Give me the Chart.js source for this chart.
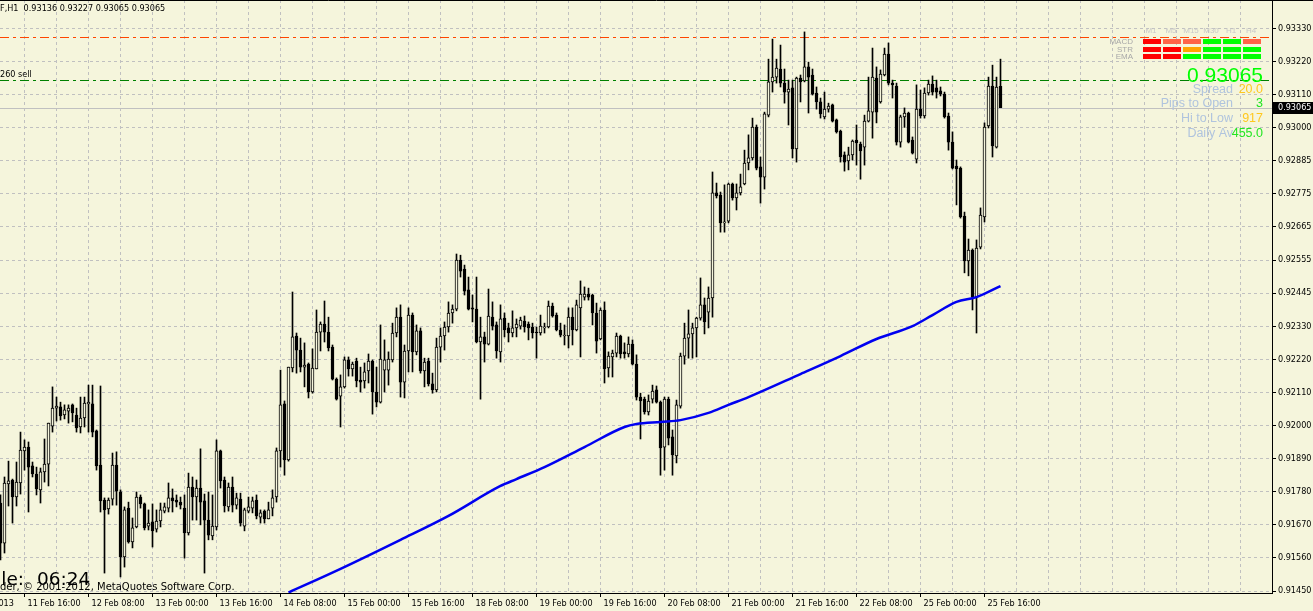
<!DOCTYPE html>
<html>
<head>
<meta charset="utf-8">
<title>USDCHF,H1</title>
<script src="https://cdn.jsdelivr.net/npm/chart.js@4.4.1/dist/chart.umd.min.js"></script>
<style>
  html, body { margin: 0; padding: 0; background: #f5f5dc; overflow: hidden; }
  #wrap { width: 1313px; height: 611px; }
</style>
</head>
<body>
<div id="wrap"><canvas id="chart" width="1313" height="611"></canvas></div>
<script>
/* ============================================================
   USDCHF H1 — MetaTrader style candle chart
   ============================================================ */

const symbol = 'USDCHF';
const period = 'H1';

// one entry per hourly bar, oldest first
const opens = [
  0.91744,0.91610,0.91808,0.91821,0.91764,0.91811,0.91918,0.91931,0.91868,0.91841,
  0.91788,0.91848,0.91874,0.92001,0.92061,0.92065,0.92038,0.92051,0.92072,0.92038,
  0.91998,0.92028,0.92075,0.92075,0.91985,0.91871,0.91754,0.91724,0.91757,0.91871,
  0.91781,0.91564,0.91727,0.91614,0.91664,0.91764,0.91741,0.91667,0.91681,0.91657,
  0.91684,0.91717,0.91727,0.91761,0.91754,0.91747,0.91727,0.91644,0.91797,0.91764,
  0.91794,0.91751,0.91687,0.91634,0.91664,0.91918,0.91821,0.91731,0.91797,0.91737,
  0.91757,0.91667,0.91717,0.91727,0.91754,0.91697,0.91717,0.91691,0.91727,0.91764,
  0.91918,0.92075,0.91888,0.92195,0.92302,0.92255,0.92198,0.92208,0.92115,0.92192,
  0.92315,0.92342,0.92315,0.92265,0.92158,0.92101,0.92132,0.92222,0.92192,0.92218,
  0.92155,0.92152,0.92185,0.92218,0.92115,0.92081,0.92188,0.92188,0.92222,0.92312,
  0.92365,0.92148,0.92252,0.92372,0.92249,0.92319,0.92185,0.92218,0.92142,0.92122,
  0.92265,0.92302,0.92332,0.92379,0.92392,0.92556,0.92526,0.92456,0.92396,0.92392,
  0.92282,0.92299,0.92275,0.92365,0.92339,0.92249,0.92362,0.92329,0.92312,0.92329,
  0.92335,0.92352,0.92342,0.92332,0.92315,0.92312,0.92329,0.92332,0.92402,0.92372,
  0.92322,0.92302,0.92302,0.92365,0.92322,0.92396,0.92432,0.92442,0.92439,0.92379,
  0.92292,0.92389,0.92195,0.92232,0.92245,0.92302,0.92249,0.92242,0.92275,0.92208,
  0.92098,0.92091,0.92048,0.92091,0.92122,0.92081,0.91931,0.92091,0.91965,0.91901,
  0.92068,0.92235,0.92295,0.92309,0.92329,0.92362,0.92406,0.92382,0.92429,0.92780,
  0.92773,0.92680,0.92686,0.92810,0.92763,0.92780,0.92810,0.92880,0.92897,0.93000,
  0.92867,0.92833,0.93040,0.93151,0.93167,0.93194,0.93147,0.93117,0.93131,0.92927,
  0.93164,0.93154,0.93201,0.93174,0.93114,0.93084,0.93034,0.93060,0.93074,0.93024,
  0.92987,0.92907,0.92887,0.92907,0.92957,0.92943,0.92933,0.93020,0.93050,0.93164,
  0.93084,0.93174,0.93244,0.93147,0.93137,0.92950,0.93034,0.93047,0.92957,0.92893,
  0.93060,0.93037,0.93114,0.93144,0.93131,0.93121,0.93110,0.93037,0.92950,0.92870,
  0.92863,0.92703,0.92553,0.92589,0.92432,0.92599,0.92700,0.93004,0.93137,0.92933,
  0.93136
];

const highs = [
  0.91771,0.91831,0.91884,0.91824,0.91881,0.91981,0.91955,0.91948,0.91881,0.91864,
  0.91861,0.91958,0.92011,0.92132,0.92098,0.92081,0.92072,0.92072,0.92075,0.92061,
  0.92098,0.92098,0.92138,0.92138,0.91988,0.92135,0.91761,0.91761,0.91911,0.91915,
  0.91788,0.91731,0.91747,0.91694,0.91781,0.91771,0.91744,0.91721,0.91741,0.91721,
  0.91744,0.91744,0.91811,0.91791,0.91771,0.91764,0.91771,0.91844,0.91831,0.91821,
  0.91925,0.91774,0.91781,0.91771,0.91955,0.91921,0.91831,0.91811,0.91831,0.91777,
  0.91777,0.91727,0.91764,0.91764,0.91771,0.91721,0.91721,0.91747,0.91788,0.91928,
  0.92188,0.92085,0.92198,0.92449,0.92312,0.92295,0.92279,0.92212,0.92259,0.92389,
  0.92349,0.92419,0.92365,0.92272,0.92162,0.92172,0.92232,0.92232,0.92215,0.92228,
  0.92198,0.92212,0.92242,0.92222,0.92198,0.92339,0.92289,0.92249,0.92345,0.92396,
  0.92406,0.92272,0.92396,0.92379,0.92339,0.92329,0.92228,0.92228,0.92178,0.92295,
  0.92329,0.92349,0.92416,0.92406,0.92576,0.92572,0.92539,0.92499,0.92439,0.92499,
  0.92365,0.92315,0.92459,0.92416,0.92349,0.92406,0.92379,0.92345,0.92386,0.92359,
  0.92365,0.92369,0.92349,0.92345,0.92332,0.92372,0.92345,0.92419,0.92412,0.92379,
  0.92345,0.92339,0.92396,0.92396,0.92422,0.92486,0.92466,0.92462,0.92442,0.92412,
  0.92396,0.92416,0.92249,0.92255,0.92312,0.92305,0.92279,0.92299,0.92289,0.92239,
  0.92111,0.92098,0.92105,0.92138,0.92135,0.92085,0.92098,0.92098,0.91988,0.92088,
  0.92245,0.92345,0.92389,0.92345,0.92365,0.92496,0.92429,0.92466,0.92850,0.92813,
  0.92783,0.92807,0.92813,0.92813,0.92810,0.92843,0.92923,0.92974,0.93030,0.93007,
  0.92900,0.93050,0.93227,0.93294,0.93227,0.93274,0.93194,0.93157,0.93157,0.93167,
  0.93174,0.93318,0.93217,0.93194,0.93134,0.93097,0.93117,0.93080,0.93077,0.93027,
  0.92990,0.92917,0.92933,0.92957,0.93007,0.92950,0.93040,0.93167,0.93264,0.93201,
  0.93191,0.93264,0.93281,0.93157,0.93147,0.93040,0.93064,0.93050,0.92967,0.93141,
  0.93124,0.93131,0.93157,0.93171,0.93157,0.93134,0.93117,0.93047,0.92984,0.92890,
  0.92867,0.92716,0.92626,0.92593,0.92623,0.92730,0.93014,0.93167,0.93207,0.93167,
  0.93227
];

const lows = [
  0.91554,0.91577,0.91734,0.91677,0.91734,0.91774,0.91854,0.91714,0.91831,0.91771,
  0.91744,0.91814,0.91801,0.91981,0.92018,0.92021,0.92025,0.92011,0.92015,0.91981,
  0.91978,0.91998,0.91981,0.91965,0.91854,0.91714,0.91510,0.91707,0.91737,0.91737,
  0.91497,0.91530,0.91610,0.91594,0.91661,0.91727,0.91654,0.91654,0.91597,0.91647,
  0.91664,0.91711,0.91714,0.91714,0.91731,0.91724,0.91560,0.91637,0.91687,0.91687,
  0.91671,0.91510,0.91621,0.91621,0.91654,0.91794,0.91714,0.91717,0.91714,0.91724,
  0.91667,0.91651,0.91711,0.91711,0.91691,0.91677,0.91677,0.91691,0.91701,0.91747,
  0.91864,0.91837,0.91884,0.92182,0.92178,0.92182,0.92132,0.92095,0.92111,0.92192,
  0.92252,0.92282,0.92252,0.92155,0.92088,0.91998,0.92128,0.92168,0.92168,0.92132,
  0.92115,0.92128,0.92145,0.92041,0.92065,0.92078,0.92115,0.92138,0.92215,0.92299,
  0.92098,0.92095,0.92182,0.92182,0.92239,0.92178,0.92132,0.92135,0.92111,0.92115,
  0.92215,0.92255,0.92315,0.92345,0.92386,0.92499,0.92439,0.92389,0.92349,0.92279,
  0.92091,0.92215,0.92272,0.92322,0.92228,0.92215,0.92299,0.92282,0.92299,0.92299,
  0.92325,0.92315,0.92289,0.92295,0.92228,0.92305,0.92312,0.92329,0.92365,0.92319,
  0.92299,0.92272,0.92262,0.92272,0.92319,0.92232,0.92422,0.92422,0.92339,0.92245,
  0.92289,0.92145,0.92165,0.92165,0.92232,0.92228,0.92228,0.92232,0.92205,0.92088,
  0.91958,0.92041,0.92038,0.92078,0.92078,0.91837,0.91854,0.91938,0.91837,0.91878,
  0.92061,0.92208,0.92228,0.92228,0.92232,0.92355,0.92309,0.92329,0.92365,0.92763,
  0.92649,0.92649,0.92680,0.92756,0.92723,0.92773,0.92807,0.92857,0.92890,0.92857,
  0.92746,0.92793,0.93034,0.93117,0.93147,0.93134,0.93080,0.93007,0.92897,0.92883,
  0.93084,0.93151,0.93047,0.93107,0.93060,0.93030,0.93027,0.93050,0.93017,0.92980,
  0.92883,0.92853,0.92857,0.92890,0.92873,0.92826,0.92873,0.93017,0.92963,0.93014,
  0.93080,0.93171,0.93141,0.93097,0.92940,0.92933,0.92999,0.92947,0.92910,0.92880,
  0.93030,0.93030,0.93107,0.93107,0.93097,0.93104,0.93030,0.92923,0.92860,0.92740,
  0.92696,0.92513,0.92503,0.92389,0.92312,0.92593,0.92683,0.92997,0.92900,0.92930,
  0.93065
];

const closes = [
  0.91610,0.91811,0.91818,0.91764,0.91814,0.91921,0.91931,0.91864,0.91841,0.91791,
  0.91848,0.91874,0.92011,0.92061,0.92068,0.92035,0.92055,0.92061,0.92045,0.91995,
  0.92028,0.92078,0.92081,0.91981,0.91868,0.91751,0.91721,0.91754,0.91871,0.91784,
  0.91564,0.91721,0.91614,0.91661,0.91764,0.91741,0.91661,0.91677,0.91651,0.91684,
  0.91721,0.91731,0.91761,0.91751,0.91747,0.91737,0.91644,0.91797,0.91764,0.91794,
  0.91747,0.91687,0.91637,0.91667,0.91918,0.91818,0.91734,0.91797,0.91737,0.91761,
  0.91677,0.91721,0.91731,0.91751,0.91701,0.91711,0.91691,0.91721,0.91761,0.91918,
  0.92072,0.91888,0.92198,0.92299,0.92255,0.92198,0.92205,0.92115,0.92195,0.92315,
  0.92342,0.92315,0.92262,0.92158,0.92091,0.92132,0.92222,0.92192,0.92208,0.92152,
  0.92148,0.92182,0.92218,0.92115,0.92081,0.92225,0.92222,0.92225,0.92312,0.92365,
  0.92148,0.92252,0.92372,0.92249,0.92319,0.92185,0.92215,0.92142,0.92122,0.92265,
  0.92302,0.92332,0.92379,0.92392,0.92556,0.92519,0.92452,0.92392,0.92392,0.92282,
  0.92299,0.92275,0.92369,0.92335,0.92252,0.92359,0.92322,0.92312,0.92329,0.92342,
  0.92355,0.92332,0.92329,0.92312,0.92312,0.92335,0.92332,0.92402,0.92369,0.92322,
  0.92305,0.92305,0.92365,0.92322,0.92406,0.92442,0.92442,0.92432,0.92379,0.92285,
  0.92389,0.92192,0.92235,0.92245,0.92302,0.92242,0.92242,0.92275,0.92208,0.92098,
  0.92085,0.92048,0.92085,0.92118,0.92081,0.91928,0.92091,0.91961,0.91905,0.92072,
  0.92235,0.92295,0.92309,0.92329,0.92362,0.92406,0.92349,0.92429,0.92780,0.92770,
  0.92680,0.92683,0.92810,0.92763,0.92780,0.92800,0.92880,0.92897,0.93000,0.92863,
  0.92833,0.93044,0.93151,0.93167,0.93197,0.93147,0.93117,0.93127,0.92927,0.93164,
  0.93151,0.93201,0.93167,0.93110,0.93084,0.93044,0.93060,0.93070,0.93020,0.92984,
  0.92900,0.92883,0.92907,0.92953,0.92947,0.92920,0.93020,0.93054,0.93167,0.93050,
  0.93177,0.93244,0.93147,0.93141,0.92950,0.93034,0.93047,0.92950,0.92913,0.93060,
  0.93037,0.93114,0.93144,0.93117,0.93117,0.93110,0.93034,0.92950,0.92863,0.92860,
  0.92700,0.92553,0.92589,0.92432,0.92596,0.92706,0.93000,0.93137,0.92937,0.93134,
  0.93065
];

// blue moving average, read at a few bars along the line
const maBars   = [72, 85, 100, 112, 125, 129, 136, 146, 156, 159, 165, 170, 177, 182, 187, 200, 210, 219, 228, 233, 239, 244, 250];
const maValues = [0.91445, 0.91524, 0.91621, 0.91701, 0.91801, 0.91824, 0.91864, 0.91931, 0.91998, 0.92008, 0.92015, 0.92021,
                  0.92045, 0.92072, 0.92098, 0.92175, 0.92235, 0.92292, 0.92335, 0.92372, 0.92416, 0.92432, 0.92469];

// time axis: one label every 16 bars, the first one sits at bar -10
const timeLabels = ['11 Feb 2013', '11 Feb 16:00', '12 Feb 08:00', '13 Feb 00:00', '13 Feb 16:00', '14 Feb 08:00',
                    '15 Feb 00:00', '15 Feb 16:00', '18 Feb 08:00', '19 Feb 00:00', '19 Feb 16:00', '20 Feb 08:00',
                    '21 Feb 00:00', '21 Feb 16:00', '22 Feb 08:00', '25 Feb 00:00', '25 Feb 16:00'];
const priceLabels = ['0.91450', '0.91560', '0.91670', '0.91780', '0.91890', '0.92000', '0.92110', '0.92220', '0.92330',
                     '0.92445', '0.92555', '0.92665', '0.92775', '0.92885', '0.93000', '0.93110', '0.93220', '0.93330'];

// horizontal objects
const redLevel = 0.93301;
const sellLevel = 0.93157;
const sellText = '0.93260 sell';

// signal panel
const timeframes = ['M1', 'M5', 'M15', 'M30', 'H1', 'H4'];
const signalRows = ['MACD', 'STR', 'EMA'];
const macdSignals = ['#FF0000', '#FF6347', '#FF6347', '#00FF00', '#00FF00', '#FF6347'];
const strSignals  = ['#FF0000', '#FF0000', '#FFA500', '#00FF00', '#00FF00', '#00FF00'];
const emaSignals  = ['#FF0000', '#FF0000', '#00FF00', '#00FF00', '#00FF00', '#00FF00'];
const infoLabels = ['Spread', 'Pips to Open', 'Hi to Low', 'Daily Av'];
const infoValues = ['20.0', '3', '917', '455.0'];
const infoColors = ['#FFC81E', '#22E622', '#FFC81E', '#22E622'];
const timerLabel = 'Candle:';
const timerValue = '06:24';
const copyright = 'MetaTrader, \u00A9 2001-2012, MetaQuotes Software Corp.';

/* ── Look ── */
const BG = '#F5F5DC';
const GRID = '#C0C0C0';
const AXIS_FONT = "'DejaVu Sans Condensed', 'Liberation Sans', sans-serif";
const ARIAL = "'Liberation Sans', Arial, sans-serif";
const DEJAVU = "'DejaVu Sans', sans-serif";

const last = closes.length - 1;
const priceStep = (parseFloat(priceLabels[priceLabels.length - 1]) - parseFloat(priceLabels[0])) / (priceLabels.length - 1);
const gridBars = [];
for (let k = -10; k < 318; k += 8) gridBars.push(k);

function timeLabelAt(v) {
  if ((v + 10) % 16 !== 0) return '';
  return timeLabels[(v + 10) / 16] || '';
}

/* ── Overlay: background, objects, axes, panel ── */
const mt4Overlay = {
  id: 'mt4Overlay',
  beforeDraw(chart) {
    const { ctx, width, height } = chart;
    ctx.save();
    ctx.fillStyle = BG;
    ctx.fillRect(0, 0, width, height);
    ctx.restore();
  },
  beforeDatasetsDraw(chart) {
    const { ctx, chartArea } = chart;
    const y = chart.scales.y;
    const hline = (v, color, dash) => {
      const py = Math.round(y.getPixelForValue(v)) + 0.5;
      ctx.beginPath();
      ctx.setLineDash(dash);
      ctx.strokeStyle = color;
      ctx.lineWidth = 1;
      ctx.moveTo(chartArea.left, py);
      ctx.lineTo(chartArea.right, py);
      ctx.stroke();
    };
    ctx.save();
    hline(closes[last], '#C0C0C0', []);
    hline(redLevel, '#FF4500', [9, 4, 3, 4]);
    hline(sellLevel, '#008000', [9, 4, 3, 4]);
    ctx.restore();
  },
  afterDraw(chart) {
    const { ctx, chartArea, width } = chart;
    const y = chart.scales.y;
    ctx.save();

    // frame
    ctx.strokeStyle = '#000';
    ctx.lineWidth = 1;
    ctx.beginPath();
    ctx.moveTo(0, 0.5); ctx.lineTo(width, 0.5);
    ctx.moveTo(chartArea.right + 0.5, 0); ctx.lineTo(chartArea.right + 0.5, chartArea.bottom + 1);
    ctx.moveTo(0, chartArea.bottom + 0.5); ctx.lineTo(chartArea.right + 1, chartArea.bottom + 0.5);
    ctx.stroke();

    // bid label on the price axis
    const bidY = y.getPixelForValue(closes[last]);
    ctx.fillStyle = '#000';
    ctx.fillRect(chartArea.right + 1, Math.round(bidY) - 6, width - chartArea.right - 1, 12);
    ctx.fillStyle = '#FFF';
    ctx.font = `9px ${AXIS_FONT}`;
    ctx.textAlign = 'left';
    ctx.textBaseline = 'middle';
    ctx.fillText(closes[last].toFixed(5), chartArea.right + 6, Math.round(bidY));

    // header
    ctx.textBaseline = 'alphabetic';
    ctx.fillStyle = '#000';
    const head = `${symbol},${period}  ${opens[last].toFixed(5)} ${highs[last].toFixed(5)} ${lows[last].toFixed(5)} ${closes[last].toFixed(5)}`;
    ctx.fillText(head, -ctx.measureText(symbol.slice(0, 5)).width, 11);

    // sell line caption
    ctx.fillText(sellText, -ctx.measureText(sellText.slice(0, 4)).width, 77);

    // candle timer + copyright
    ctx.font = `18.5px ${DEJAVU}`;
    ctx.textAlign = 'right';
    ctx.fillText(timerLabel, 24, 585);
    ctx.textAlign = 'left';
    ctx.fillText(timerValue, 37, 585);
    ctx.font = `10px ${DEJAVU}`;
    ctx.fillText(copyright, -ctx.measureText(copyright.slice(0, 7)).width, 590);

    // signal matrix
    ctx.font = `8px ${ARIAL}`;
    ctx.textAlign = 'center';
    ctx.fillStyle = '#C8C8C8';
    timeframes.forEach((tf, i) => ctx.fillText(tf, 1151 + i * 20, 33));
    ctx.textAlign = 'right';
    ctx.fillStyle = '#A8A8A8';
    signalRows.forEach((r, j) => ctx.fillText(r, 1133, 44 + j * 7.6));
    [macdSignals, strSignals, emaSignals].forEach((row, j) => {
      row.forEach((c, i) => {
        ctx.fillStyle = c;
        ctx.fillRect(1143 + i * 20, Math.round(39 + j * 7.6), 18, 5);
      });
    });

    // big bid
    ctx.font = `21px ${ARIAL}`;
    ctx.fillStyle = '#00FF00';
    ctx.fillText(closes[last].toFixed(5), 1263, 82);

    // info lines
    ctx.font = `12.5px ${ARIAL}`;
    const base = [93, 107, 122, 137];
    infoLabels.forEach((t, i) => {
      ctx.fillStyle = '#B0C4DE';
      ctx.fillText(t, 1233, base[i]);
      ctx.fillStyle = infoColors[i];
      ctx.fillText(infoValues[i], 1263, base[i]);
    });

    ctx.restore();
  }
};

/* ── Chart ── */
const wicks = opens.map((o, i) => ({ x: i, y: [lows[i], highs[i]] }));
const bodies = opens.map((o, i) => ({ x: i, y: [o, closes[i]] }));
const bodyFill = opens.map((o, i) => (closes[i] >= o ? BG : '#000'));
const ma = maBars.map((k, i) => ({ x: k, y: maValues[i] }));

new Chart(document.getElementById('chart'), {
  type: 'bar',
  data: {
    datasets: [
      {
        type: 'line',
        data: ma,
        borderColor: '#0000F0',
        borderWidth: 2.5,
        pointRadius: 0,
        cubicInterpolationMode: 'monotone',
        order: 0
      },
      {
        data: bodies,
        backgroundColor: bodyFill,
        borderColor: '#000',
        borderWidth: 1,
        borderSkipped: false,
        barThickness: 3,
        minBarLength: 1,
        grouped: false,
        order: 1
      },
      {
        data: wicks,
        backgroundColor: '#000',
        borderWidth: 0,
        barThickness: 1,
        grouped: false,
        order: 2
      }
    ]
  },
  options: {
    responsive: false,
    maintainAspectRatio: false,
    animation: false,
    events: [],
    devicePixelRatio: 1,
    layout: { padding: 0 },
    plugins: { legend: { display: false }, tooltip: { enabled: false } },
    scales: {
      x: {
        type: 'linear',
        min: -0.125,
        max: 317.875,
        offset: false,
        bounds: 'data',
        afterBuildTicks: s => { s.ticks = gridBars.map(v => ({ value: v })); },
        afterFit: s => { s.height = 18; s.paddingLeft = 0; s.paddingRight = 0; },
        grid: {
          offset: false,
          color: GRID,
          tickLength: 4,
          tickColor: c => (c.tick && timeLabelAt(c.tick.value) ? '#000' : 'rgba(0,0,0,0)')
        },
        border: { display: false, dash: [3, 3] },
        ticks: {
          autoSkip: false,
          maxRotation: 0,
          minRotation: 0,
          align: 'start',
          labelOffset: 3,
          padding: 1,
          color: '#000',
          font: { family: AXIS_FONT, size: 9 },
          callback: v => timeLabelAt(v)
        }
      },
      y: {
        type: 'linear',
        position: 'right',
        min: 0.914434,
        max: 0.934246,
        bounds: 'data',
        beginAtZero: false,
        afterBuildTicks: s => {
          s.ticks = priceLabels.map((t, i) => ({ value: parseFloat(priceLabels[0]) + i * priceStep }));
        },
        afterFit: s => { s.width = 41; s.paddingTop = 0; s.paddingBottom = 0; },
        grid: { color: GRID, tickLength: 4, tickColor: '#000' },
        border: { display: false, dash: [3, 3] },
        ticks: {
          autoSkip: false,
          padding: 2,
          color: '#000',
          font: { family: AXIS_FONT, size: 9 },
          callback: (v, i) => priceLabels[i]
        }
      }
    }
  },
  plugins: [mt4Overlay]
});
</script>
</body>
</html>
